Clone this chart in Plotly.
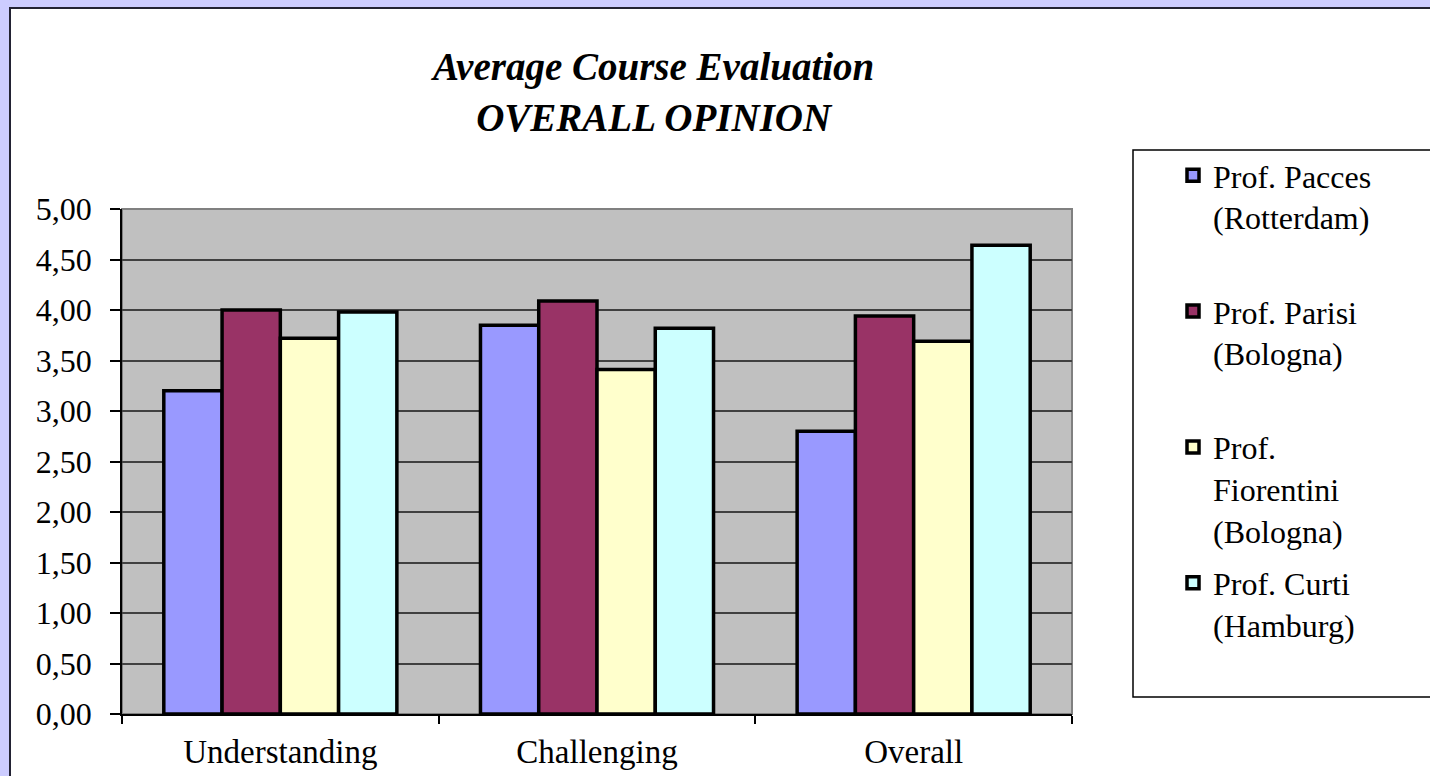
import plotly.graph_objects as go

# ---- data ----
categories = ["Understanding", "Challenging", "Overall"]
pacces = [3.20, 3.85, 2.80]
parisi = [4.00, 4.09, 3.94]
fiorentini = [3.72, 3.41, 3.69]
curti = [3.98, 3.82, 4.64]

series_names = [
    "Prof. Pacces<br>(Rotterdam)<br> ",
    "Prof. Parisi<br>(Bologna)<br> ",
    "Prof.<br>Fiorentini<br>(Bologna)",
    "Prof. Curti<br>(Hamburg)<br> ",
]
series_values = [pacces, parisi, fiorentini, curti]
series_colors = ["#9999FF", "#993366", "#FFFFCC", "#CCFFFF"]

FONT = "Liberation Serif"
W, H = 1430, 776
L, R, T, B = 122, 1072, 209, 714  # plot area in pixels


def px2x(px):
    return (px - L) / (R - L)


def py2y(py):
    return (B - py) / (B - T)


fig = go.Figure()
for i, (name, vals, col) in enumerate(zip(series_names, series_values, series_colors)):
    fig.add_trace(go.Bar(
        x=categories, y=vals, name=name, legendgroup=f"g{i}",
        marker=dict(color=col, line=dict(color="black", width=3.5)),
    ))

shapes = [
    # lavender frame
    dict(type="rect", xref="paper", yref="paper", x0=px2x(-5), x1=px2x(9), y0=py2y(H + 5), y1=py2y(-5),
         fillcolor="#CCCCFF", line=dict(width=0), layer="above"),
    dict(type="rect", xref="paper", yref="paper", x0=px2x(-5), x1=px2x(W + 5), y0=py2y(7), y1=py2y(-5),
         fillcolor="#CCCCFF", line=dict(width=0), layer="above"),
    # dark edge of the white chart area
    dict(type="line", xref="paper", yref="paper", x0=px2x(10), x1=px2x(10), y0=py2y(H + 5), y1=py2y(8),
         line=dict(color="#222233", width=2), layer="above"),
    dict(type="line", xref="paper", yref="paper", x0=px2x(9), x1=px2x(W + 5), y0=py2y(8), y1=py2y(8),
         line=dict(color="#222233", width=2), layer="above"),
    # plot area border
    dict(type="rect", xref="paper", yref="paper", x0=0, x1=1, y0=0, y1=1,
         line=dict(color="#808080", width=2), layer="below"),
    # legend box
    dict(type="rect", xref="paper", yref="paper", x0=px2x(1133), x1=px2x(W + 10), y0=py2y(697), y1=py2y(150),
         line=dict(color="black", width=1.5), layer="above"),
]

fig.update_layout(
    width=W, height=H, autosize=False,
    margin=dict(l=L, r=W - R, t=T, b=H - B, pad=0, autoexpand=False),
    paper_bgcolor="white", plot_bgcolor="#C0C0C0",
    separators=",.",
    barmode="group", bargap=0.264, bargroupgap=0,
    font=dict(family=FONT, color="black"),
    shapes=shapes,
    showlegend=True,
    legend=dict(
        x=px2x(1173), y=py2y(148), xanchor="left", yanchor="top",
        bgcolor="rgba(0,0,0,0)", borderwidth=0, maxheight=700,
        font=dict(family=FONT, size=32, color="black"),
        valign="top", traceorder="grouped", tracegroupgap=8,
    ),
    annotations=[dict(
        text="Average Course Evaluation<br>OVERALL OPINION",
        xref="paper", yref="paper", x=px2x(652), y=py2y(92),
        xanchor="center", yanchor="middle", showarrow=False,
        font=dict(family=FONT, size=39, color="black", weight="bold", style="italic"),
    )],
    xaxis=dict(
        type="category", tickson="boundaries", ticks="outside", ticklen=8,
        tickcolor="black", tickwidth=1.5, showline=True, linecolor="black", linewidth=1.5,
        showgrid=False, tickfont=dict(family=FONT, size=33, color="black"),
        ticklabelstandoff=8, automargin=False,
    ),
    yaxis=dict(
        range=[0, 5], tick0=0, dtick=0.5, tickformat=".2f",
        showgrid=True, gridcolor="#404040", gridwidth=1.5, zeroline=False,
        showline=True, linecolor="black", linewidth=1.5,
        ticks="outside", ticklen=10, tickcolor="black", tickwidth=1.5,
        tickfont=dict(family=FONT, size=32, color="black"),
        ticklabelstandoff=12, automargin=False,
    ),
)

fig.write_html(
    "out.html",
    config={"displayModeBar": False},
    post_script="document.body.style.margin='0';document.body.style.overflow='hidden';",
)
